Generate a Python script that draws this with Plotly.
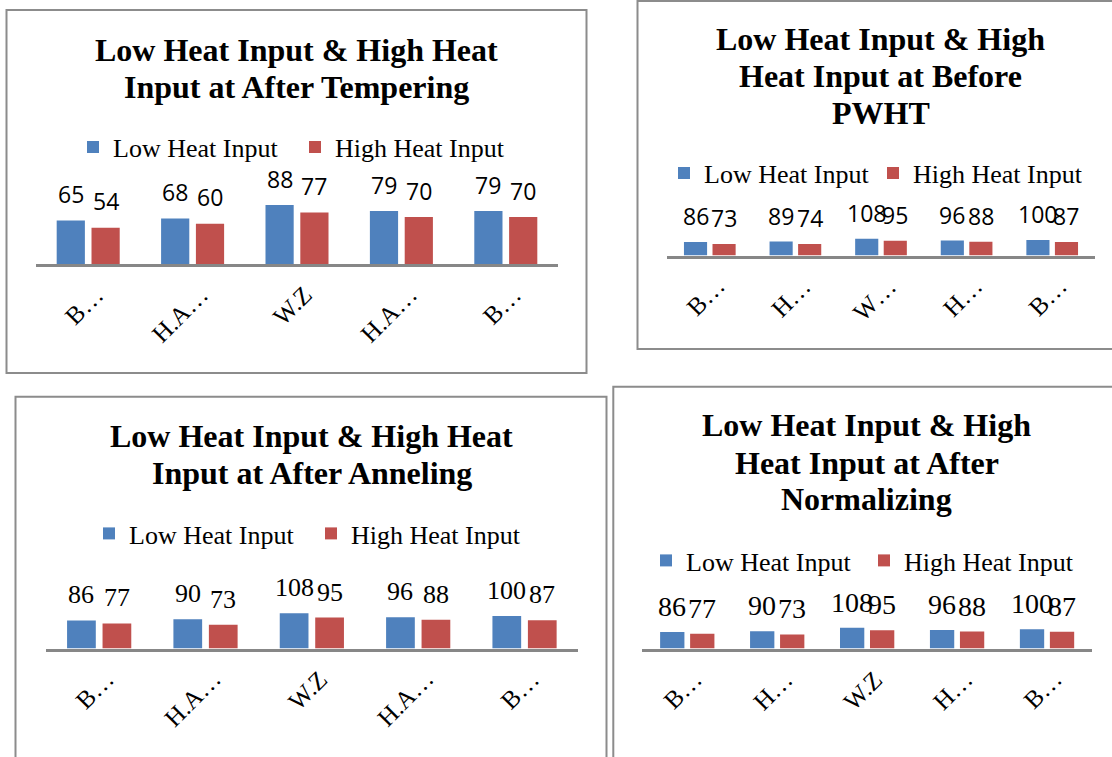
import plotly.graph_objects as go

W, H = 1112, 757

# ---------------- data ----------------
series_names = ["Low Heat Input", "High Heat Input"]

cats_tempering = ["B…", "H.A…", "W.Z", "H.A…", "B…"]
low_tempering = [65, 68, 88, 79, 79]
high_tempering = [54, 60, 77, 70, 70]

cats_pwht = ["B…", "H…", "W…", "H…", "B…"]
low_pwht = [86, 89, 108, 96, 100]
high_pwht = [73, 74, 95, 88, 87]

cats_anneling = ["B…", "H.A…", "W.Z", "H.A…", "B…"]
low_anneling = [86, 90, 108, 96, 100]
high_anneling = [77, 73, 95, 88, 87]

cats_normalizing = ["B…", "H…", "W.Z", "H…", "B…"]
low_normalizing = [86, 90, 108, 96, 100]
high_normalizing = [77, 73, 95, 88, 87]

title_tempering = ["Low Heat Input & High Heat", "Input at After Tempering"]
title_pwht = ["Low Heat Input & High", "Heat Input at Before", "PWHT"]
title_anneling = ["Low Heat Input & High Heat", "Input at After Anneling"]
title_normalizing = ["Low Heat Input & High", "Heat Input at After", "Normalizing"]

# ---------------- style / layout ----------------
BLUE = "#4F81BD"
RED = "#C0504D"
AXIS = "#878787"
BORDER = "#8c8c8c"
BARGAP = 0.333
GROUPGAP = 0.19
SERIF = "Liberation Serif, Times New Roman, serif"
SANS = "Open Sans, Arial, sans-serif"

panels = [
    dict(cats=cats_tempering, low=low_tempering, high=high_tempering, title=title_tempering,
         border=(6.5, 10, 586.5, 373), xdom=(36, 558), base=264, top=170, scale=0.67,
         title_x=296.5, title_y=[50, 87], leg_x=73, leg_y=147, entry=177,
         lab_font=dict(family=SANS, size=23, color="black"), lab_dy=26.5),
    dict(cats=cats_pwht, low=low_pwht, high=high_pwht, title=title_pwht,
         border=(637.5, 1, 1125, 349), xdom=(667, 1095), base=255.5, top=200, scale=0.156,
         title_x=880.5, title_y=[39, 75.5, 112.5], leg_x=664, leg_y=173, entry=164,
         lab_font=dict(family=SANS, size=23, color="black"), lab_dy=26),
    dict(cats=cats_anneling, low=low_anneling, high=high_anneling, title=title_anneling,
         border=(15.5, 396.7, 606.5, 770), xdom=(46, 577.7), base=648.5, top=560, scale=0.326,
         title_x=311.5, title_y=[435.5, 472.5], leg_x=89, leg_y=533.5, entry=177,
         lab_font=dict(family=SERIF, size=26, color="black"), lab_dy=25.5),
    dict(cats=cats_normalizing, low=low_normalizing, high=high_normalizing, title=title_normalizing,
         border=(613.3, 386.7, 1125, 770), xdom=(642.3, 1092), base=648.5, top=585, scale=0.192,
         title_x=866.5, title_y=[425, 462.5, 499], leg_x=646, leg_y=560.5, entry=173,
         lab_font=dict(family=SERIF, size=28, color="black"), lab_dy=25.5),
]


def px_x(x):
    return x / W


def px_y(y):
    return 1 - y / H


fig = go.Figure()
layout_updates = {}

for i, p in enumerate(panels):
    n = i + 1
    sfx = "" if n == 1 else str(n)
    xa, ya = "x" + sfx, "y" + sfx
    leg = "legend" + sfx
    xs = list(range(len(p["cats"])))

    for name, vals, color in zip(series_names, [p["low"], p["high"]], [BLUE, RED]):
        fig.add_trace(go.Bar(x=xs, y=vals, name=name, marker=dict(color=color, line=dict(width=0)),
                             xaxis=xa, yaxis=ya, legend=leg, hoverinfo="x+y+name"))

    x0, x1 = p["xdom"]
    b, t = p["base"], p["top"]
    layout_updates["xaxis" + sfx] = dict(
        domain=[px_x(x0), px_x(x1)], range=[-0.5, len(xs) - 0.5], anchor=ya,
        showline=True, linecolor=AXIS, linewidth=2.5, showgrid=False, zeroline=False,
        showticklabels=False, ticks="", fixedrange=True)
    layout_updates["yaxis" + sfx] = dict(
        domain=[px_y(b), px_y(t)], range=[0, (b - t) / p["scale"]], anchor=xa,
        visible=False, fixedrange=True)

    layout_updates[leg] = dict(
        orientation="h", x=px_x(p["leg_x"]), y=px_y(p["leg_y"]), xanchor="left", yanchor="middle",
        font=dict(family=SERIF, size=26, color="black"), bgcolor="rgba(0,0,0,0)",
        entrywidth=p["entry"], entrywidthmode="pixels", borderwidth=0)

    # data labels above bars
    cat_px = (x1 - x0) / len(xs)
    off = cat_px * (1 - BARGAP) / 4
    for j, x in enumerate(xs):
        for vals, sh in ((p["low"], -off), (p["high"], off)):
            fig.add_annotation(x=x, y=vals[j], xref=xa, yref=ya, text=str(vals[j]), showarrow=False,
                               xshift=sh, yshift=p["lab_dy"], yanchor="middle", xanchor="center",
                               font=p["lab_font"])

    # rotated category labels
    for j, x in enumerate(xs):
        fig.add_annotation(x=x, y=0, xref=xa, yref=ya + " domain", text=p["cats"][j], textangle=-45,
                           xanchor="right", yanchor="top", xshift=23, yshift=-14, showarrow=False,
                           font=dict(family=SERIF, size=25, color="black"))

    # title lines
    for line, yc in zip(p["title"], p["title_y"]):
        fig.add_annotation(x=px_x(p["title_x"]), y=px_y(yc), xref="paper", yref="paper",
                           text="<b>" + line + "</b>", showarrow=False, xanchor="center", yanchor="middle",
                           font=dict(family=SERIF, size=32, color="black"))

    # panel border
    l, tp, r, bt = p["border"]
    fig.add_shape(type="rect", xref="paper", yref="paper", x0=px_x(l), x1=px_x(r), y0=px_y(bt), y1=px_y(tp),
                  line=dict(color=BORDER, width=2), fillcolor="rgba(0,0,0,0)", layer="below")

fig.update_layout(**layout_updates)
fig.update_layout(
    width=W, height=H, autosize=False,
    margin=dict(l=0, r=0, t=0, b=0),
    paper_bgcolor="white", plot_bgcolor="white",
    barmode="group", bargap=BARGAP, bargroupgap=GROUPGAP,
    showlegend=True,
)

fig.write_html("out.html")
